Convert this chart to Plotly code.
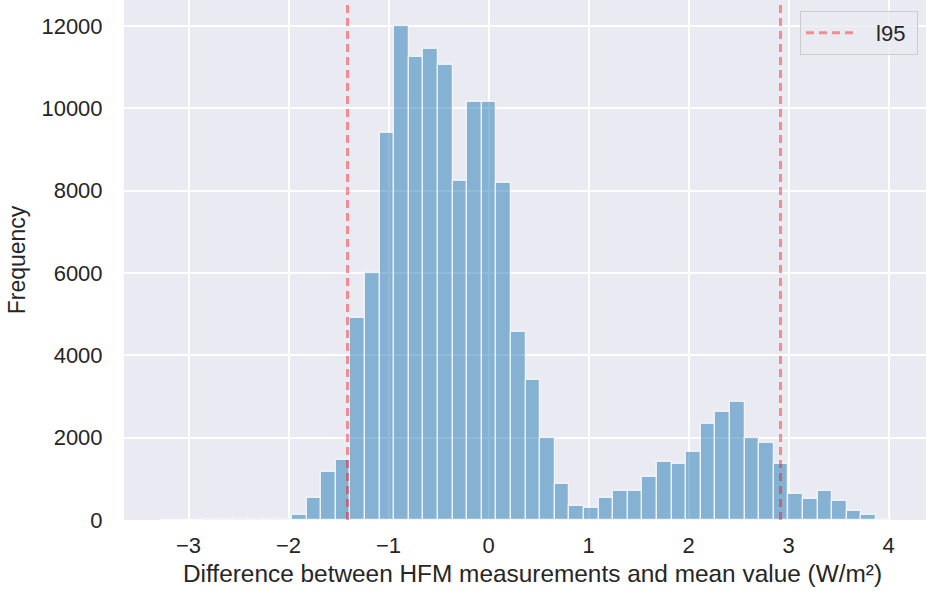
import plotly.graph_objects as go

# ---- data ----
bin_start = -3.28
bin_width = 0.146
counts = [3, 0, 0, 25, 25, 25, 25, 25, 30,
          130, 540, 1170, 1460, 4900, 6000, 9400, 12000, 11250, 11440, 11040,
          8230, 10150, 10150, 8180, 4560, 3400, 1990, 880, 350, 290,
          530, 700, 700, 1050, 1400, 1350, 1640, 2340, 2630, 2860,
          1990, 1870, 1350, 640, 520, 700, 460, 230, 110, 20]
l95_values = [-1.41, 2.92]
l95_label = "l95"
x_ticks = [-3, -2, -1, 0, 1, 2, 3, 4]
y_ticks = [0, 2000, 4000, 6000, 8000, 10000, 12000]
y_ticktext = ["0", "2000", "4000", "6000", "8000", "10000", "12000"]
x_title = "Difference between HFM measurements and mean value (W/m²)"
y_title = "Frequency"

x_range = [-3.645, 4.375]
y_range = [0, 12630]

centers = [bin_start + (i + 0.5) * bin_width for i in range(len(counts))]

font_family = "Liberation Sans, Arial, sans-serif"
text_color = "#262626"

fig = go.Figure()
fig.add_trace(go.Bar(
    x=centers, y=counts, width=[bin_width] * len(counts),
    marker=dict(color="rgba(31,119,180,0.5)",
                line=dict(color="rgba(255,255,255,0.75)", width=1.3)),
    showlegend=False,
))
for i, v in enumerate(l95_values):
    fig.add_trace(go.Scatter(
        x=[v, v], y=y_range, mode="lines",
        line=dict(color="rgba(255,0,0,0.4)", width=3, dash="8px,5px"),
        name="\u2002\u00a0" + l95_label + "\u00a0",
        showlegend=(i == 0), legendgroup="l95",
    ))

fig.update_layout(
    width=926, height=591,
    margin=dict(l=124, r=0, t=0, b=71),
    paper_bgcolor="white", plot_bgcolor="#EAEAF2",
    font=dict(family=font_family, size=22, color=text_color),
    bargap=0,
    legend=dict(x=0.99, y=0.979, xanchor="right", yanchor="top",
                bgcolor="rgba(234,234,242,0.8)", bordercolor="#CCCCCC",
                borderwidth=1, font=dict(size=22, color=text_color),
                itemwidth=48),
    xaxis=dict(range=x_range, tickvals=x_ticks, showgrid=True,
               gridcolor="white", gridwidth=2, zeroline=False,
               ticks="outside", ticklen=6, tickcolor="rgba(0,0,0,0)",
               tickfont=dict(size=22, color=text_color),
               showline=False, automargin=False),
    yaxis=dict(range=y_range, tickvals=y_ticks, ticktext=y_ticktext, showgrid=True,
               gridcolor="white", gridwidth=2, zeroline=False,
               ticks="outside", ticklen=16, tickcolor="rgba(0,0,0,0)",
               tickfont=dict(size=22, color=text_color),
               title=dict(text=y_title, font=dict(size=23, color=text_color), standoff=9),
               showline=False, automargin=False),
)

fig.add_annotation(
    text=x_title, xref="paper", yref="paper", x=0.509, y=-0.1038,
    xanchor="center", yanchor="middle", showarrow=False,
    font=dict(size=24.4, color=text_color, family=font_family),
)

fig.write_html("out.html", config={"displayModeBar": False},
               post_script="document.body.style.margin='0';")
